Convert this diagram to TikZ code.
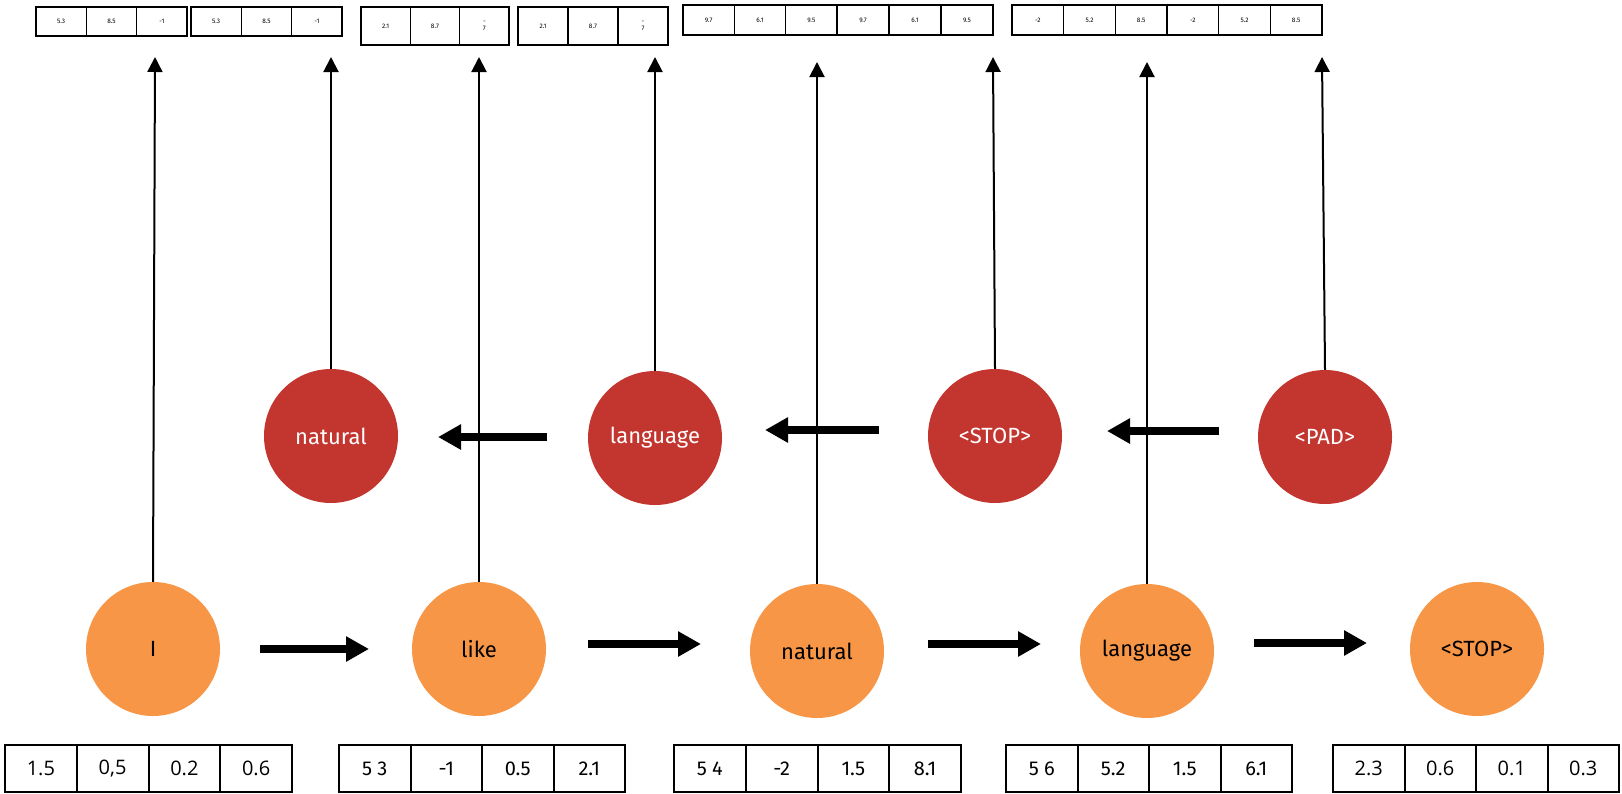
\documentclass[tikz,border=0pt]{standalone}
\usepackage{fontspec}
\setmainfont{Fira Sans}
\newfontfamily\opensans{Open Sans}
\usetikzlibrary{arrows.meta}
\definecolor{tokorange}{HTML}{F79646}
\definecolor{tokred}{HTML}{C3362F}
\tikzset{
  encnode/.style={circle, fill=tokorange, minimum size=134pt, inner sep=0pt,
    text=black, font=\fontsize{22}{26}\selectfont},
  decnode/.style={circle, fill=tokred, minimum size=134pt, inner sep=0pt,
    text=white, font=\fontsize{22}{26}\selectfont},
  vecarrow/.style={line width=2pt, -{Triangle[width=15pt,length=15pt]}},
  steparrow/.style={line width=8pt, -{Triangle[width=24pt,length=23pt]}},
  topcell/.style={draw, line width=1.6pt, inner sep=0pt, align=center,
    font=\fontsize{6.5}{7}\selectfont},
  botcell/.style={draw, line width=2pt, inner sep=0pt,
    font=\fontsize{20}{24}\selectfont},
  botopen/.style={font=\opensans\fontsize{20}{24}\selectfont},
}
% one row of equal cells: name, style, left x, cell width, centre y, height, values
\newcommand\cellrow[7]{%
  \foreach \v [count=\i] in {#7}
    \node[#2, minimum width=#4pt, minimum height=#6pt] (#1\i)
      at ({#3+#4*(\i-0.5)},#5) {\v};}
\begin{document}
\begin{tikzpicture}[x=1pt,y=-1pt]
\useasboundingbox (0,0) rectangle (1622,793);

% output vectors
\cellrow{ka}{topcell}{36}{50.33}{21.5}{29}{5.3,8.5,-1}
\cellrow{kb}{topcell}{191}{50.33}{21.5}{29}{5.3,8.5,-1}
\cellrow{kc}{topcell}{361}{49.33}{26}{38}{2.1,8.7,{-\\7}}
\cellrow{kd}{topcell}{518}{50}{26}{38}{2.1,8.7,{-\\7}}
\cellrow{ke}{topcell}{683}{51.33}{20}{30}{9.7,6.1,9.5}
\cellrow{kf}{topcell}{837}{52}{20}{30}{9.7,6.1,9.5}
\cellrow{kg}{topcell}{1012}{51.67}{20}{30}{-2,5.2,8.5}
\cellrow{kh}{topcell}{1167}{51.67}{20}{30}{-2,5.2,8.5}

% input embeddings
\cellrow{ea}{botcell,botopen}{5}{71.75}{768.5}{47}{1.5,{0,5},0.2,0.6}
\cellrow{eb}{botcell}{339}{71.5}{768.5}{47}{5 3,-1,0.5,2.1}
\cellrow{ec}{botcell}{674}{71.75}{768.5}{47}{5 4,-2,1.5,8.1}
\cellrow{ed}{botcell}{1006}{71.5}{768.5}{47}{5 6,5.2,1.5,6.1}
\cellrow{ee}{botcell,botopen}{1333}{71.5}{768.5}{47}{2.3,0.6,0.1,0.3}

% encoder tokens
\node[encnode] (e1) at (153,649) {I};
\node[encnode] (e2) at (479,649) {like};
\node[encnode] (e3) at (817,651) {natural};
\node[encnode] (e4) at (1147,651) {language};
\node[encnode] (e5) at (1477,649) {<STOP>};

% decoder tokens
\node[decnode] (d1) at (331,436) {natural};
\node[decnode] (d2) at (655,438) {language};
\node[decnode] (d3) at (995,436) {<STOP>};
\node[decnode] (d4) at (1325,437) {<PAD>};

% tips of the vertical arrows
\coordinate (ue1) at (155,57);
\coordinate (ue2) at (479,57);
\coordinate (ue3) at (817,62);
\coordinate (ue4) at (1147,62);
\coordinate (ud1) at (331,57);
\coordinate (ud2) at (655,57);
\coordinate (ud3) at (993,57);
\coordinate (ud4) at (1322,57);

\foreach \n in {e1,e2,e3,e4,d1,d2,d3,d4}
  \draw[vecarrow] (\n.north) -- (u\n);

% time-step arrows
\coordinate (sa1) at (260,649);  \coordinate (sb1) at (369,649);
\coordinate (sa2) at (588,644);  \coordinate (sb2) at (701,644);
\coordinate (sa3) at (928,644);  \coordinate (sb3) at (1041,644);
\coordinate (sa4) at (1254,643); \coordinate (sb4) at (1367,643);
\coordinate (ra1) at (547,437);  \coordinate (rb1) at (438,437);
\coordinate (ra2) at (879,430);  \coordinate (rb2) at (765,430);
\coordinate (ra3) at (1219,431); \coordinate (rb3) at (1107,431);

\foreach \k in {1,2,3,4}
  \draw[steparrow] (sa\k) -- (sb\k);
\foreach \k in {1,2,3}
  \draw[steparrow] (ra\k) -- (rb\k);
\end{tikzpicture}
\end{document}
